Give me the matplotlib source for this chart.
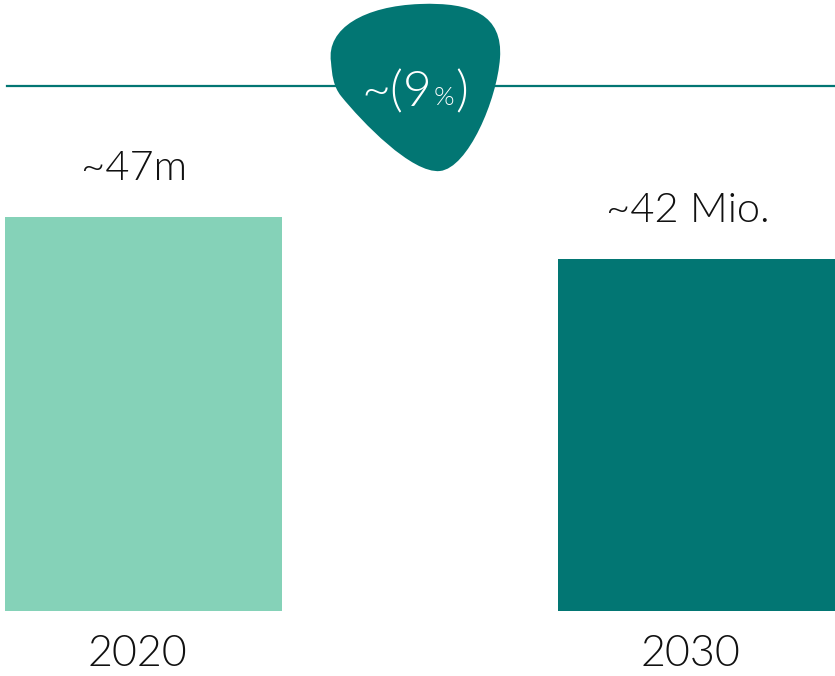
import matplotlib
matplotlib.use("Agg")
import matplotlib.pyplot as plt
from matplotlib.path import Path
from matplotlib.patches import PathPatch

# ---- data ----
years = ["2020", "2030"]
values = [47, 42]
value_labels = ["~47m", "~42 Mio."]
change_main = "~(9"
change_pct = "%"
change_close = ")"

# ---- style ----
bar_colors = ["#85D2B8", "#027673"]
teal = "#027673"
text_color = "#111111"
FONT = "Lato"
W, H = 835, 676

plt.rcParams["font.family"] = [FONT, "DejaVu Sans"]

fig = plt.figure(figsize=(W / 100, H / 100), dpi=100)

# axes: y=0 at pixel row 611 (from top), top of axes at figure top
px_per_unit = 394 / 47.0
bottom_px = 611
ax = fig.add_axes([0, (H - bottom_px) / H, 1, bottom_px / H])
ax.set_ylim(0, bottom_px / px_per_unit)
centre_gap = 553.0
ax.set_xlim(-143.5 / centre_gap, 1 + (835 - 696.5) / centre_gap)
ax.axis("off")

xs = list(range(len(years)))
ax.bar(xs, values, width=277 / centre_gap, color=bar_colors, linewidth=0)

for x, v, lab in zip(xs, values, value_labels):
    ax.annotate(lab, xy=(x, v), xytext=(-9, 37), textcoords="offset pixels",
                ha="center", va="baseline", fontsize=30, fontweight=300,
                color=text_color)
for x, y in zip(xs, years):
    ax.annotate(y, xy=(x, 0), xytext=(-6, -55), textcoords="offset pixels",
                ha="center", va="baseline", fontsize=31, fontweight=300,
                color=text_color, annotation_clip=False)

# horizontal reference line (figure pixel coords, top origin)
def fx(px):
    return px / W

def fy(py):
    return (H - py) / H

fig.add_artist(plt.Line2D([fx(7), fx(835)], [fy(86), fy(86)], color=teal, lw=1.6))

# blob shape (figure pixel coords, top origin)
pts = [
    (331, 62),
    (326, 28), (365, 6), (420, 4),
    (472, 2), (503, 15), (500, 58),
    (497, 100), (468, 168), (440, 171),
    (412, 174), (362, 122), (341, 96),
    (333, 86), (332, 74), (331, 62),
]
codes = [Path.MOVETO] + [Path.CURVE4] * 15
verts = [(fx(x), fy(y)) for x, y in pts]
blob = PathPatch(Path(verts, codes), facecolor=teal, edgecolor="none",
                 transform=fig.transFigure)
fig.add_artist(blob)

# blob text, assembled piece by piece
renderer = fig.canvas.get_renderer()
x_cur = 361
base = 106
t1 = fig.text(fx(x_cur), fy(base), change_main, color="white", fontsize=36,
              fontweight=300, ha="left", va="baseline")
x_cur += t1.get_window_extent(renderer).width + 2
t2 = fig.text(fx(x_cur), fy(base - 1), change_pct, color="white", fontsize=19,
              fontweight=300, ha="left", va="baseline")
x_cur += t2.get_window_extent(renderer).width + 1
t3 = fig.text(fx(x_cur), fy(base), change_close, color="white", fontsize=36,
              fontweight=300, ha="left", va="baseline")

fig.savefig("out.png", dpi=100)
